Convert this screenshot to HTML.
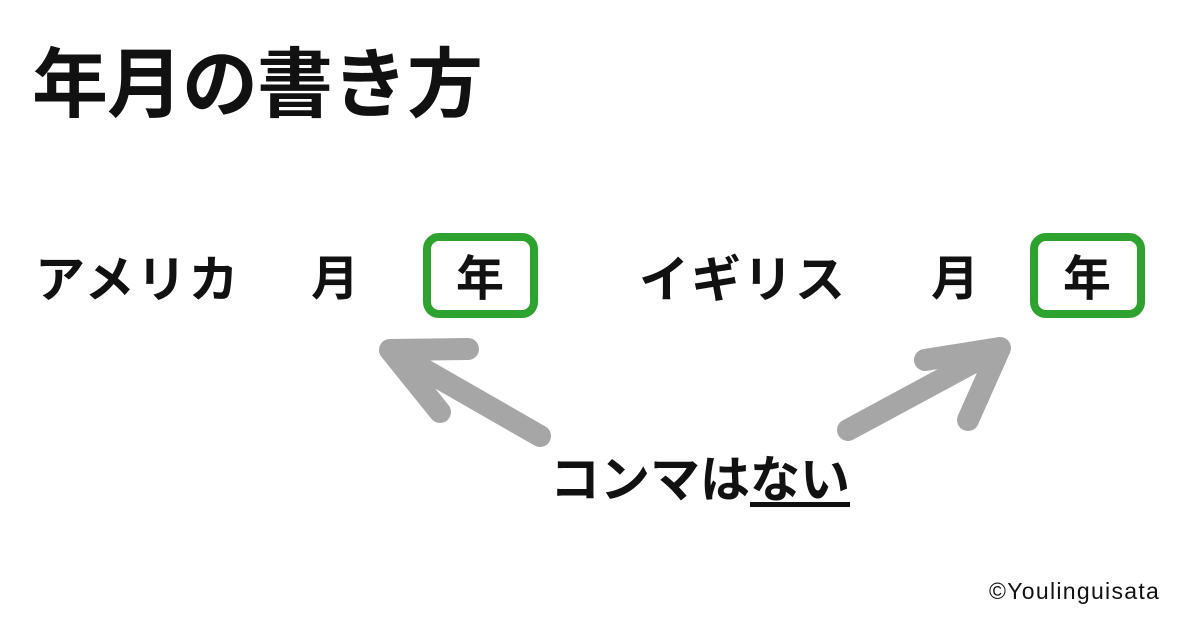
<!DOCTYPE html>
<html><head><meta charset="utf-8"><style>
body{margin:0;width:1200px;height:630px;background:#fff;position:relative;overflow:hidden;font-family:"Liberation Sans","Noto Sans CJK JP",sans-serif;font-weight:bold;color:#111}
.t{position:absolute;white-space:nowrap;line-height:1}
.box{position:absolute;border:8px solid #2ea22e;border-radius:16px;box-sizing:border-box}
</style></head><body>
<div class="t" style="left:32px;top:48px;font-size:76px;letter-spacing:-1px">年月の書き方</div>
<div class="t" style="left:35px;top:255px;font-size:50px;letter-spacing:2px">アメリカ</div>
<div class="t" style="left:311px;top:256px;font-size:48px">月</div>
<div class="box" style="left:423px;top:233px;width:115px;height:85px"></div>
<div class="t" style="left:456px;top:256px;font-size:48px">年</div>
<div class="t" style="left:639px;top:255px;font-size:50px;letter-spacing:2px">イギリス</div>
<div class="t" style="left:931px;top:256px;font-size:48px">月</div>
<div class="box" style="left:1030px;top:233px;width:115px;height:85px"></div>
<div class="t" style="left:1063px;top:256px;font-size:48px">年</div>
<svg style="position:absolute;left:0;top:0" width="1200" height="630">
<g stroke="#a6a6a6" stroke-width="22" stroke-linecap="round" stroke-linejoin="round" fill="none">
<path d="M540 436 L390 350 M390 350 L468 349 M390 350 L440 412"/>
<path d="M848 430 L1000 348 M1000 348 L925 360 M1000 348 L968 420"/>
</g></svg>
<div class="t" style="left:550px;top:455px;font-size:50px">コンマは<span style="text-decoration:underline;text-underline-offset:5px">ない</span></div>
<div class="t" style="left:989px;top:580px;font-size:23px;font-weight:normal;letter-spacing:1.3px">©Youlinguisata</div>
</body></html>
